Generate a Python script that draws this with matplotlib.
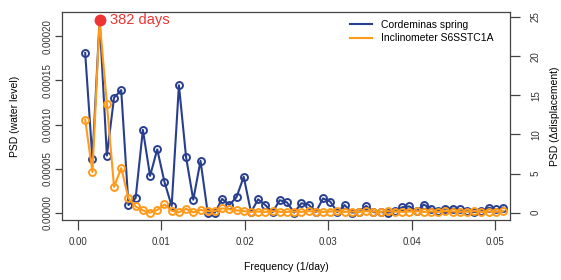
import matplotlib
matplotlib.use("Agg")
import matplotlib.pyplot as plt

plt.rcParams['font.family'] = ['Liberation Sans', 'DejaVu Sans']

# frequencies (1/day)
frequency = [0.00086, 0.00173, 0.00259, 0.00346, 0.00432, 0.00518, 0.00605, 0.00691, 0.00778, 0.00864,
             0.00950, 0.01037, 0.01123, 0.01210, 0.01296, 0.01382, 0.01469, 0.01555, 0.01642, 0.01728,
             0.01814, 0.01901, 0.01987, 0.02074, 0.02160, 0.02246, 0.02333, 0.02419, 0.02506, 0.02592,
             0.02678, 0.02765, 0.02851, 0.02938, 0.03024, 0.03110, 0.03197, 0.03283, 0.03370, 0.03456,
             0.03542, 0.03629, 0.03715, 0.03802, 0.03888, 0.03974, 0.04061, 0.04147, 0.04234, 0.04320,
             0.04406, 0.04493, 0.04579, 0.04666, 0.04752, 0.04838, 0.04925, 0.05011, 0.05098]

# PSD of the spring water level (left axis)
psd_spring = [1.81e-4, 0.61e-4, 2.19e-4, 0.65e-4, 1.305e-4, 1.39e-4, 0.09e-4, 0.17e-4, 0.94e-4, 0.42e-4,
              0.72e-4, 0.35e-4, 0.08e-4, 1.445e-4, 0.63e-4, 0.15e-4, 0.59e-4, 0.005e-4, 0.005e-4, 0.16e-4,
              0.09e-4, 0.18e-4, 0.41e-4, 0.01e-4, 0.155e-4, 0.09e-4, 0.01e-4, 0.145e-4, 0.12e-4, 0.005e-4,
              0.11e-4, 0.095e-4, 0.01e-4, 0.165e-4, 0.13e-4, 0.01e-4, 0.09e-4, 0.005e-4, 0.01e-4, 0.08e-4,
              0.01e-4, 0.01e-4, 0.005e-4, 0.02e-4, 0.065e-4, 0.075e-4, 0.02e-4, 0.095e-4, 0.05e-4, 0.02e-4,
              0.05e-4, 0.05e-4, 0.04e-4, 0.02e-4, 0.01e-4, 0.02e-4, 0.06e-4, 0.04e-4, 0.06e-4]

# PSD of the inclinometer displacement (right axis)
psd_inclinometer = [11.9, 5.2, 24.6, 13.9, 3.3, 5.7, 1.85, 0.8, 0.3, 0.0,
                    0.35, 1.05, 0.25, 0.05, 0.5, 0.05, 0.35, 0.2, 0.2, 0.55,
                    0.45, 0.3, 0.2, 0.1, 0.15, 0.1, 0.2, 0.1, 0.1, 0.15,
                    0.1, 0.2, 0.15, 0.1, 0.15, 0.2, 0.1, 0.15, 0.1, 0.2,
                    0.15, 0.1, 0.2, 0.15, 0.1, 0.15, 0.2, 0.1, 0.15, 0.1,
                    0.2, 0.15, 0.1, 0.15, 0.2, 0.1, 0.15, 0.1, 0.2]

peak_index = 2
peak_label = "382 days"

left_ticks = [0.0, 0.00005, 0.00010, 0.00015, 0.00020]
left_tick_labels = ["0.00000", "0.00005", "0.00010", "0.00015", "0.00020"]
right_ticks = [0, 5, 10, 15, 20, 25]
x_ticks = [0.00, 0.01, 0.02, 0.03, 0.04, 0.05]
x_tick_labels = ["0.00", "0.01", "0.02", "0.03", "0.04", "0.05"]

blue = "#283f8f"
orange = "#ff9a1a"
red = "#ee3333"
axis_color = "#444444"

fig = plt.figure(figsize=(5.61, 2.80), dpi=100)
ax = fig.add_axes([62 / 561, 1 - 220 / 280, 448 / 561, 207.7 / 280])
ax2 = ax.twinx()

ax.plot(frequency, psd_spring, color=blue, lw=1.5, marker="o", ms=5,
        mfc="none", mec=blue, mew=1.4, label="Cordeminas spring")
ax2.plot(frequency, psd_inclinometer, color=orange, lw=1.5, marker="o", ms=5,
         mfc="none", mec=orange, mew=1.4, label="Inclinometer S6SSTC1A")
ax2.plot(frequency[peak_index], psd_inclinometer[peak_index], "o", color=red, ms=7.5)
ax2.text(frequency[peak_index] + 0.0012, psd_inclinometer[peak_index], peak_label,
         color=red, fontsize=10.5, va="center", ha="left")

ax.set_xlim(-0.00192, 0.0518)
ax.set_ylim(-0.0000079, 0.000227)
ax2.set_ylim(-0.93, 25.6)

ax.set_xticks(x_ticks)
ax.set_xticklabels(x_tick_labels)
ax.set_yticks(left_ticks)
ax.set_yticklabels(left_tick_labels)
ax2.set_yticks(right_ticks)

for spine in ax.spines.values():
    spine.set_color(axis_color)
    spine.set_linewidth(0.9)
for spine in ax2.spines.values():
    spine.set_visible(False)

ax.tick_params(axis="x", length=7, width=0.9, color=axis_color, pad=5.5,
               labelsize=7, labelcolor="#333333")
ax.tick_params(axis="y", length=5, width=0.9, color=axis_color, pad=1.5,
               labelsize=7, labelcolor="#333333", labelrotation=90)
ax2.tick_params(axis="y", length=7, width=0.9, color=axis_color, pad=8,
                labelsize=7, labelcolor="#333333", labelrotation=90)
for t in ax.get_yticklabels():
    t.set_va("center")
for t in ax2.get_yticklabels():
    t.set_va("center")

ax.set_xlabel("Frequency (1/day)", fontsize=7.5)
ax.xaxis.set_label_coords(0.5, -0.2)
ax.set_ylabel("PSD (water level)", fontsize=7.5)
ax.yaxis.set_label_coords(-0.094, 0.5)
ax2.set_ylabel("PSD (\u0394displacement)", fontsize=7.5)
ax2.yaxis.set_label_coords(1.089, 0.5)

h1, l1 = ax.get_legend_handles_labels()
h2, l2 = ax2.get_legend_handles_labels()
leg = ax2.legend(h1 + h2, l1 + l2, loc="upper left", bbox_to_anchor=(350 / 561, 1 - 19.5 / 280),
                 bbox_transform=fig.transFigure, frameon=False, fontsize=7.5,
                 handlelength=2.1, handletextpad=0.9, labelspacing=0.35,
                 borderpad=0, borderaxespad=0)
for line in leg.get_lines():
    line.set_marker("")
    line.set_linewidth(1.5)

fig.savefig("out.png", dpi=100)
